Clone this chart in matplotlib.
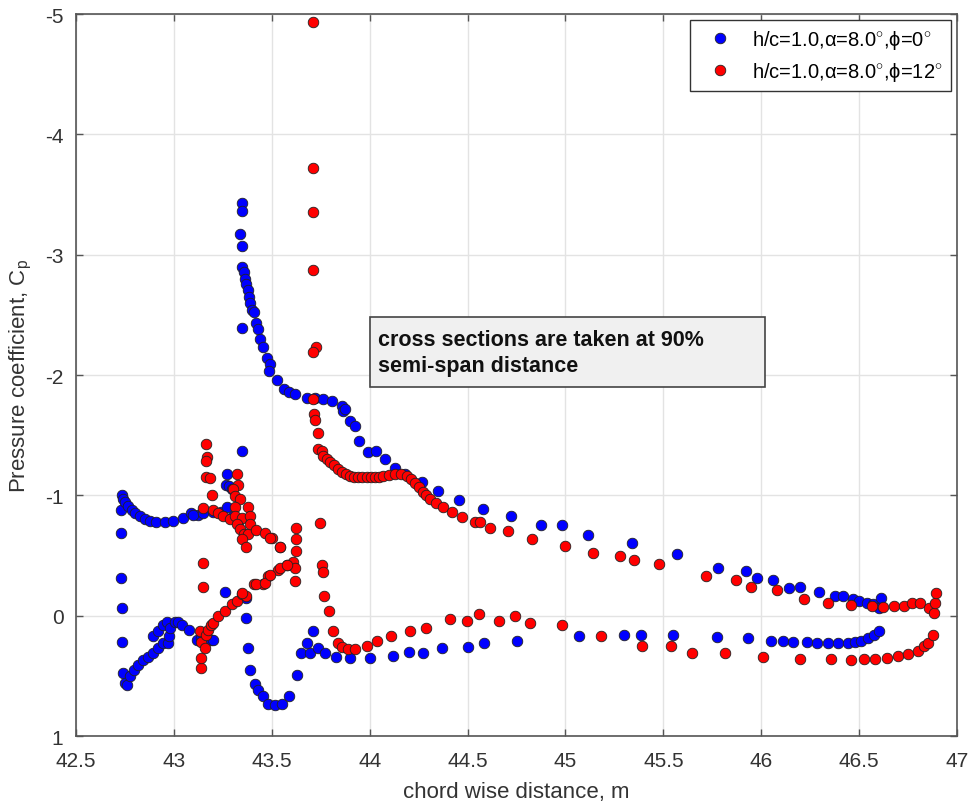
import matplotlib
matplotlib.use("Agg")
import matplotlib.pyplot as plt
from matplotlib.patches import Rectangle

plt.rcParams['font.family'] = ['Liberation Sans', 'DejaVu Sans']
plt.rcParams['axes.unicode_minus'] = False
plt.rcParams['mathtext.fontset'] = 'custom'
plt.rcParams['mathtext.rm'] = 'Liberation Sans'
plt.rcParams['mathtext.it'] = 'Liberation Sans:italic'

# phi = 0 deg : chordwise position (m) and pressure coefficient
blue_x = [
    # leading edge, vertical row
    42.733, 42.728, 42.730, 42.729, 42.733, 42.733, 42.738, 42.750, 42.760,
    # suction side from leading edge
    42.740, 42.750, 42.767, 42.784, 42.800, 42.826, 42.850, 42.877, 42.910,
    42.954, 42.996, 43.048, 43.085, 43.124, 43.100, 43.150, 43.200, 43.240,
    43.266, 43.270, 43.270, 43.280, 43.295, 43.300, 43.330, 43.350,
    # suction peak and recovery
    43.346, 43.346, 43.340, 43.346, 43.350, 43.358, 43.365, 43.370, 43.376,
    43.383, 43.390, 43.400, 43.410, 43.346, 43.420, 43.430, 43.440, 43.456,
    43.476, 43.490, 43.487, 43.525, 43.560, 43.590, 43.618, 43.678, 43.720,
    43.763, 43.810, 43.857, 43.865, 43.874, 43.900, 43.925, 43.947, 43.990,
    44.030, 44.080, 44.130, 44.180, 44.265, 44.350, 44.457, 44.580, 44.720,
    44.875, 44.980, 45.113, 45.340, 45.568, 45.778, 45.920, 45.977, 46.060,
    46.143, 46.200, 46.295, 46.377, 46.420, 46.467, 46.500, 46.540, 46.573,
    46.610, 46.600,
    # pressure side from leading edge
    42.775, 42.795, 42.817, 42.843, 42.870, 42.894, 42.920, 42.945, 42.970,
    42.976, 42.894, 42.920, 42.945, 42.966, 42.980, 43.005, 43.022, 43.040,
    43.078, 43.116, 43.140, 43.190, 43.200, 43.260, 43.370, 43.370,
    # dip behind the step
    43.380, 43.390, 43.414, 43.430, 43.456, 43.480, 43.516, 43.550, 43.590,
    43.627, 43.650, 43.680, 43.710, 43.695, 43.737, 43.770, 43.830, 43.900,
    44.000, 44.117, 44.200, 44.270, 44.370, 44.500, 44.584, 44.750, 45.070,
    45.300, 45.386, 45.550, 45.775, 45.930, 46.050, 46.110, 46.160, 46.235,
    46.287, 46.340, 46.390, 46.445, 46.480, 46.510, 46.547, 46.576, 46.600,
]
blue_cp = [
    -1.00, -0.88, -0.69, -0.31, -0.06, 0.215, 0.48, 0.56, 0.575,
    -0.97, -0.945, -0.91, -0.88, -0.855, -0.83, -0.80, -0.785, -0.78,
    -0.78, -0.785, -0.81, -0.855, -0.84, -0.84, -0.85, -0.86, -0.86,
    -1.09, -1.175, -0.905, -1.08, -1.05, -0.83, -0.78, -1.37,
    -3.43, -3.36, -3.17, -3.07, -2.90, -2.86, -2.80, -2.76, -2.71,
    -2.65, -2.60, -2.54, -2.52, -2.39, -2.43, -2.38, -2.30, -2.23,
    -2.14, -2.09, -2.03, -1.96, -1.88, -1.855, -1.84, -1.81, -1.81,
    -1.80, -1.785, -1.74, -1.70, -1.72, -1.62, -1.58, -1.455, -1.36,
    -1.37, -1.30, -1.23, -1.18, -1.11, -1.04, -0.96, -0.89, -0.83,
    -0.75, -0.75, -0.67, -0.60, -0.515, -0.40, -0.375, -0.31, -0.30,
    -0.23, -0.24, -0.20, -0.165, -0.16, -0.14, -0.124, -0.105, -0.097,
    -0.146, -0.064,
    0.505, 0.45, 0.41, 0.37, 0.34, 0.31, 0.27, 0.23, 0.23,
    0.17, 0.17, 0.13, 0.075, 0.05, 0.10, 0.05, 0.05, 0.075,
    0.115, 0.20, 0.185, 0.20, 0.20, -0.20, 0.02, -0.15,
    0.27, 0.45, 0.57, 0.615, 0.67, 0.73, 0.74, 0.735, 0.67,
    0.49, 0.31, 0.226, 0.13, 0.31, 0.27, 0.31, 0.345, 0.355,
    0.35, 0.336, 0.30, 0.31, 0.27, 0.26, 0.226, 0.21, 0.17,
    0.16, 0.16, 0.16, 0.18, 0.184, 0.21, 0.21, 0.217, 0.22,
    0.226, 0.226, 0.226, 0.226, 0.217, 0.21, 0.184, 0.162, 0.13,
]

# phi = 12 deg : chordwise position (m) and pressure coefficient
red_x = [
    # leading edge cluster
    43.163, 43.170, 43.163, 43.163, 43.184, 43.193, 43.150, 43.200, 43.225,
    43.250, 43.286, 43.320, 43.330, 43.300, 43.310, 43.337, 43.310, 43.310,
    43.346, 43.380, 43.390, 43.320, 43.337, 43.360, 43.380, 43.350, 43.366,
    43.390, 43.420, 43.465, 43.500, 43.540, 43.150, 43.147,
    # pressure side rising from the leading edge
    43.136, 43.136, 43.140, 43.133, 43.158, 43.165, 43.175, 43.190, 43.200,
    43.226, 43.260, 43.295, 43.320, 43.346, 43.370, 43.410, 43.456, 43.480,
    43.530, 43.576, 43.610, 43.620, 43.350, 43.420, 43.465,
    # step region
    43.623, 43.623, 43.623, 43.620, 43.490, 43.540, 43.490, 43.540, 43.580,
    # suction peak behind the step
    43.709, 43.709, 43.710, 43.709, 43.725, 43.709, 43.710, 43.715, 43.720,
    43.737, 43.737, 43.755, 43.763, 43.780, 43.797, 43.820, 43.840, 43.857,
    43.880, 43.900, 43.920, 43.940, 43.960, 43.984, 44.005, 44.027, 44.050,
    44.070, 44.100, 44.130, 44.160, 44.190, 44.210, 44.230, 44.250, 44.270,
    44.290, 44.310, 44.340, 44.376, 44.420, 44.470, 44.540, 44.563, 44.614,
    44.705, 44.830, 44.997, 45.140, 45.277, 45.350, 45.480, 45.720, 45.870,
    45.950, 46.080, 46.220, 46.340, 46.460, 46.564, 46.620, 46.680, 46.730,
    46.770, 46.810, 46.855, 46.880, 46.887, 46.890,
    # pressure side behind the step
    43.746, 43.755, 43.760, 43.766, 43.790, 43.815, 43.840, 43.860, 43.890,
    43.925, 43.984, 44.035, 44.110, 44.206, 44.290, 44.410, 44.495, 44.560,
    44.660, 44.740, 44.820, 44.980, 45.180, 45.390, 45.540, 45.646, 45.815,
    46.010, 46.200, 46.356, 46.460, 46.527, 46.580, 46.640, 46.700, 46.750,
    46.800, 46.830, 46.850, 46.876,
]
red_cp = [
    -1.43, -1.32, -1.287, -1.15, -1.147, -1.00, -0.895, -0.88, -0.85,
    -0.826, -0.80, -1.175, -1.09, -1.05, -0.995, -0.97, -0.90, -0.83,
    -0.81, -0.90, -0.83, -0.76, -0.72, -0.675, -0.675, -0.635, -0.57,
    -0.76, -0.71, -0.69, -0.645, -0.575, -0.44, -0.24,
    0.435, 0.35, 0.215, 0.13, 0.27, 0.16, 0.12, 0.08, 0.06,
    0.005, -0.04, -0.10, -0.12, -0.18, -0.16, -0.26, -0.26, -0.33,
    -0.38, -0.42, -0.45, -0.40, -0.19, -0.26, -0.27,
    -0.73, -0.64, -0.535, -0.285, -0.645, -0.575, -0.34, -0.40, -0.42,
    -4.93, -3.72, -3.355, -2.87, -2.23, -2.19, -1.80, -1.68, -1.63,
    -1.52, -1.385, -1.37, -1.33, -1.30, -1.28, -1.25, -1.22, -1.19,
    -1.175, -1.165, -1.155, -1.15, -1.15, -1.15, -1.15, -1.15, -1.155,
    -1.16, -1.17, -1.18, -1.18, -1.165, -1.14, -1.10, -1.07, -1.03,
    -1.00, -0.97, -0.935, -0.90, -0.86, -0.82, -0.78, -0.78, -0.73,
    -0.70, -0.64, -0.58, -0.525, -0.50, -0.46, -0.43, -0.33, -0.30,
    -0.24, -0.21, -0.14, -0.105, -0.086, -0.078, -0.07, -0.078, -0.078,
    -0.105, -0.105, -0.064, -0.022, -0.105, -0.19,
    -0.77, -0.42, -0.36, -0.16, -0.04, 0.13, 0.225, 0.26, 0.28,
    0.28, 0.255, 0.21, 0.17, 0.13, 0.10, 0.03, 0.047, -0.014,
    0.047, 0.005, 0.06, 0.08, 0.168, 0.25, 0.25, 0.31, 0.31,
    0.345, 0.36, 0.363, 0.37, 0.36, 0.363, 0.35, 0.336, 0.316,
    0.295, 0.253, 0.226, 0.157,
]

series_labels = [
    'h/c=1.0,α=8.0$^{\\circ}$,ϕ=0$^{\\circ}$',
    'h/c=1.0,α=8.0$^{\\circ}$,ϕ=12$^{\\circ}$',
]
x_ticks = [42.5, 43, 43.5, 44, 44.5, 45, 45.5, 46, 46.5, 47]
x_tick_labels = ['42.5', '43', '43.5', '44', '44.5', '45', '45.5', '46', '46.5', '47']
y_ticks = [1, 0, -1, -2, -3, -4, -5]
y_tick_labels = ['1', '0', '-1', '-2', '-3', '-4', '-5']

fig = plt.figure(figsize=(9.73, 8.04), dpi=100)
ax = fig.add_axes([0.0781, 0.0833, 0.9055, 0.8980])

mk = dict(marker='o', linestyle='none', markersize=7.6,
          markeredgecolor='#222222', markeredgewidth=0.6)
ax.plot(blue_x, blue_cp, color='#0000ff', markerfacecolor='#0000ff',
        label=series_labels[0], **mk)
ax.plot(red_x, red_cp, color='#ff0000', markerfacecolor='#ff0000',
        label=series_labels[1], **mk)

ax.set_xlim(42.5, 47)
ax.set_ylim(1, -5)
ax.set_xticks(x_ticks)
ax.set_xticklabels(x_tick_labels)
ax.set_yticks(y_ticks)
ax.set_yticklabels(y_tick_labels)

ax.grid(True, color='#e3e3e3', linewidth=1.0)
ax.set_axisbelow(True)
for sp in ax.spines.values():
    sp.set_color('#555555')
    sp.set_linewidth(1.2)
ax.tick_params(direction='in', length=5, width=1, color='#555555',
               labelsize=15, labelcolor='#333333', top=True, right=True)
ax.tick_params(axis='x', pad=11)
ax.tick_params(axis='y', pad=9)

ax.set_xlabel('chord wise distance, m', fontsize=16, color='#333333',
              labelpad=8)
ax.set_ylabel('Pressure coefficient, C$_\\mathregular{p}$', fontsize=16,
              color='#333333', labelpad=8)

leg = ax.legend(loc='upper right', fontsize=14.5, frameon=True, fancybox=False,
                framealpha=1, edgecolor='#333333', borderaxespad=0.3,
                handletextpad=0.5, borderpad=0.4, labelspacing=0.45,
                handlelength=2.2, markerscale=1.0)
leg.get_frame().set_linewidth(1.0)

# annotation box
ax.add_patch(Rectangle((0.3337, 0.483), 0.448, 0.097, transform=ax.transAxes,
                       facecolor='#f0f0f0', edgecolor='#444444',
                       linewidth=1.2, zorder=5))
ax.text(0.343, 0.5315, 'cross sections are taken at 90%\nsemi-span distance',
        transform=ax.transAxes, fontsize=15.5, fontweight='bold',
        ha='left', va='center', linespacing=1.3, color='#111111', zorder=6)

fig.savefig('out.png', dpi=100)
